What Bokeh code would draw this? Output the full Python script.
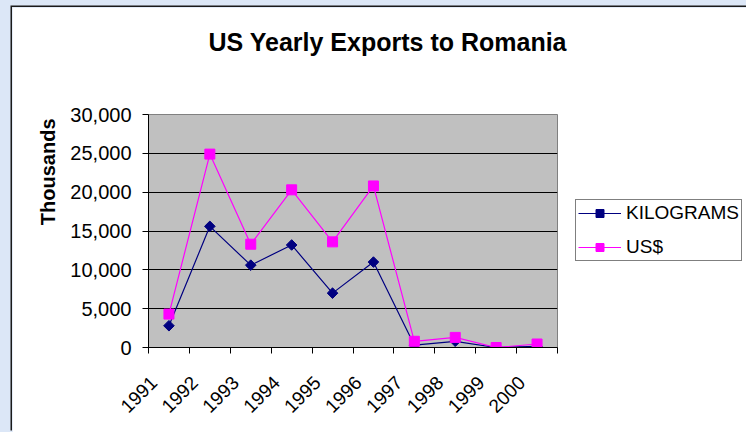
import math
from bokeh.plotting import figure
from bokeh.layouts import column
from bokeh.models import (FixedTicker, NumeralTickFormatter, Range1d, Legend, LegendItem, Title)
from bokeh.embed import file_html
from bokeh.resources import INLINE

years = ["1991", "1992", "1993", "1994", "1995", "1996", "1997", "1998", "1999", "2000"]
kilograms = [2800, 15600, 10600, 13200, 7000, 11000, 300, 800, 0, 150]
usd = [4300, 24900, 13300, 20300, 13600, 20800, 800, 1300, 0, 450]
y_ticks = [0, 5000, 10000, 15000, 20000, 25000, 30000]

FONT = "Liberation Sans"
LABEL_SHIFT = 0.37  # rotated year labels sit left of the category centre

centers = [i + 0.5 for i in range(len(years))]
bounds = list(range(len(years) + 1))
label_pos = [c - LABEL_SHIFT for c in centers]

p = figure(frame_width=409, frame_height=233, output_backend="svg", toolbar_location=None,
           x_range=Range1d(0, len(years)), y_range=Range1d(0, 30000), title=None,
           min_border_left=136, min_border_right=189, min_border_top=107, min_border_bottom=85,
           margin=(7, 0, 0, 12))
p.styles = {"box-shadow": "-1.5px -1.5px 0px 0px #1a1a1a"}

p.background_fill_color = "#C0C0C0"
p.border_fill_color = "white"
p.outline_line_color = "#808080"
p.outline_line_width = 1

# spacer between frame and title, then the title itself
spacer = Title(text=" ", text_font=FONT, text_font_size="51px", standoff=0)
p.add_layout(spacer, "above")
main_title = Title(text="US Yearly Exports to Romania", text_font=FONT, text_font_size="25px",
                   text_font_style="bold", text_color="black", align="left", offset=60,
                   standoff=0)
p.add_layout(main_title, "above")

# y axis label as left title
ylab = Title(text="Thousands", align="right", text_font=FONT, text_font_size="20px",
             text_font_style="bold", text_color="black", standoff=18, offset=4)
p.add_layout(ylab, "left")

# axes
xa = p.xaxis[0]
xa.ticker = FixedTicker(ticks=label_pos, minor_ticks=bounds)
xa.major_label_overrides = {c: y for c, y in zip(label_pos, years)}
xa.major_tick_out = 0
xa.major_tick_in = 0
xa.minor_tick_out = 6
xa.minor_tick_in = 0
xa.minor_tick_line_color = "black"
xa.axis_line_color = "black"
xa.major_label_orientation = math.pi / 4
xa.major_label_text_font = FONT
xa.major_label_text_font_size = "19px"
xa.major_label_text_color = "black"
xa.major_label_standoff = 26

ya = p.yaxis[0]
ya.ticker = FixedTicker(ticks=y_ticks)
ya.formatter = NumeralTickFormatter(format="0,0")
ya.major_tick_out = 6
ya.major_tick_in = 0
ya.minor_tick_line_color = None
ya.axis_line_color = "black"
ya.major_label_text_font = FONT
ya.major_label_text_font_size = "20px"
ya.major_label_text_color = "black"
ya.major_label_standoff = 11

p.xgrid.grid_line_color = None
p.ygrid.grid_line_color = "black"
p.ygrid.grid_line_width = 1

# series
marker_angle = [math.pi / 4] * len(years)
l1 = p.line(centers, kilograms, line_color="#000080", line_width=1.2)
m1 = p.scatter(centers, kilograms, marker="square", angle=marker_angle, size=7.5,
               fill_color="#000080", line_color="#000080")
l2 = p.line(centers, usd, line_color="#FF00FF", line_width=1.2)
m2 = p.scatter(centers, usd, marker="square", size=10,
               fill_color="#FF00FF", line_color="#FF00FF")

legend = Legend(items=[LegendItem(label="KILOGRAMS", renderers=[l1, m1]),
                       LegendItem(label="US$", renderers=[l2, m2])],
                location=(18, 86))
legend.margin = 0
legend.padding = 2
legend.spacing = 12
legend.glyph_width = 43
legend.glyph_height = 20
legend.label_height = 20
legend.label_standoff = 5
legend.label_text_font = FONT
legend.label_text_font_size = "19px"
legend.label_text_color = "black"
legend.border_line_color = "black"
legend.border_line_width = 1
legend.background_fill_color = "white"
legend.background_fill_alpha = 1
p.add_layout(legend, "right")

page = column(p, styles={"background-color": "#dce7f7"})

open("out.html", "w").write(file_html(page, INLINE))
